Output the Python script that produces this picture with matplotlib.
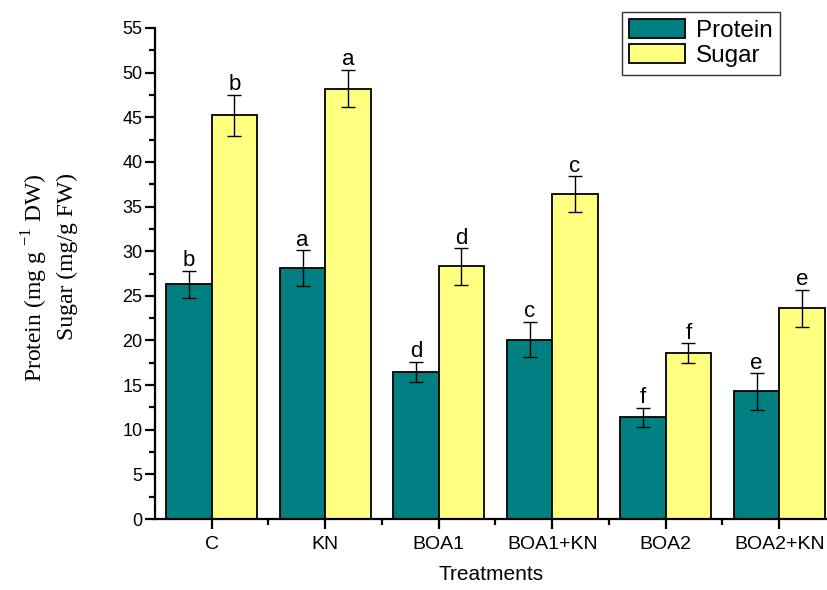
import matplotlib
matplotlib.use("Agg")
import matplotlib.pyplot as plt
import numpy as np
from matplotlib.ticker import MultipleLocator
from matplotlib.patches import Patch

categories = ["C", "KN", "BOA1", "BOA1+KN", "BOA2", "BOA2+KN"]
protein = [26.3, 28.1, 16.5, 20.1, 11.4, 14.3]
protein_err = [1.5, 2.0, 1.1, 2.0, 1.05, 2.05]
sugar = [45.2, 48.2, 28.3, 36.4, 18.6, 23.6]
sugar_err = [2.3, 2.1, 2.05, 2.0, 1.1, 2.1]
protein_letters = ["b", "a", "d", "c", "f", "e"]
sugar_letters = ["b", "a", "d", "c", "f", "e"]

teal = "#008080"
yellow = "#FFFF80"
SANS = "Liberation Sans"

fig = plt.figure(figsize=(8.28, 5.90), dpi=100)
ax = fig.add_axes([155/828, 71/590, 1 - 155/828, (519-28)/590])

x = np.arange(len(categories))
w = 0.4
ax.bar(x - w/2, protein, w, color=teal, edgecolor="black", linewidth=1.3, zorder=2)
ax.bar(x + w/2, sugar, w, color=yellow, edgecolor="black", linewidth=1.3, zorder=2)
ax.errorbar(x - w/2, protein, yerr=protein_err, fmt="none", ecolor="black",
            elinewidth=1, capsize=5, capthick=1, zorder=3)
ax.errorbar(x + w/2, sugar, yerr=sugar_err, fmt="none", ecolor="black",
            elinewidth=1, capsize=5, capthick=1, zorder=3)

for xi, v, e, t in zip(x - w/2, protein, protein_err, protein_letters):
    ax.text(xi, v + e + 0.5, t, ha="center", va="baseline", fontsize=16, family=SANS)
for xi, v, e, t in zip(x + w/2, sugar, sugar_err, sugar_letters):
    ax.text(xi, v + e + 0.5, t, ha="center", va="baseline", fontsize=16, family=SANS)

ax.set_xlim(-0.5, 5.43)
ax.set_ylim(0, 55)
ax.yaxis.set_major_locator(MultipleLocator(5))
ax.yaxis.set_minor_locator(MultipleLocator(2.5))
ax.set_xticks(x)
ax.set_xticks(x[:-1] + 0.5, minor=True)
ax.set_xticklabels(categories, fontsize=14, family=SANS)
for lab in ax.get_yticklabels():
    lab.set_family(SANS)
    lab.set_fontsize(13)
ax.tick_params(axis="both", which="major", direction="out", length=7, width=1.6)
ax.tick_params(axis="both", which="minor", direction="out", length=4, width=1.6)
ax.tick_params(axis="x", pad=5)
ax.tick_params(axis="y", pad=2)

for s in ["top", "right"]:
    ax.spines[s].set_visible(False)
for s in ["left", "bottom"]:
    ax.spines[s].set_linewidth(1.6)

ax.set_xlabel("Treatments", fontsize=15, family=SANS, labelpad=9)

fig.text(35/828, 1 - 173/590, "Protein (mg g $^{\\mathregular{-1}}$ DW)", rotation=90,
         ha="center", va="top", fontsize=17, family="Liberation Serif")
fig.text(67/828, 1 - 173/590, "Sugar (mg/g FW)", rotation=90,
         ha="center", va="top", fontsize=17, family="Liberation Serif")

handles = [Patch(facecolor=teal, edgecolor="black", linewidth=1.3, label="Protein"),
           Patch(facecolor=yellow, edgecolor="black", linewidth=1.3, label="Sugar")]
leg = fig.legend(handles=handles, loc="upper left", bbox_to_anchor=(622/828, 1 - 12/590),
                 prop={"family": SANS, "size": 17.5}, frameon=True,
                 fancybox=False, edgecolor="black", handlelength=2.3, handleheight=0.8,
                 borderpad=0.3, labelspacing=0.1, handletextpad=0.45, borderaxespad=0)
leg.get_frame().set_linewidth(1.0)

fig.savefig("out.png", dpi=100)
